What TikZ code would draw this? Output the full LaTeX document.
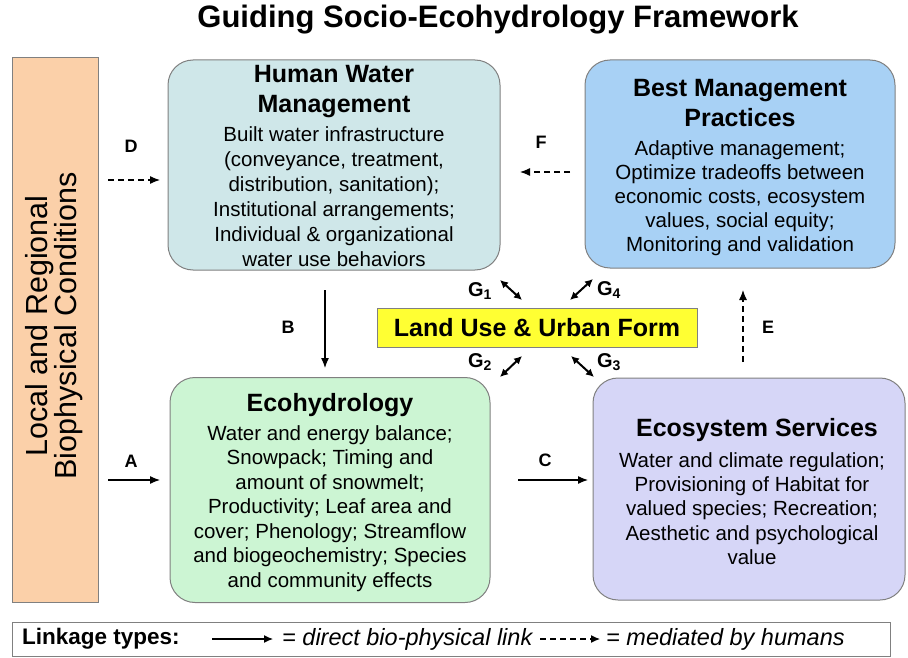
\documentclass[tikz,border=0pt]{standalone}
\usepackage{fontspec}
\setmainfont{Liberation Sans}
\usetikzlibrary{arrows.meta}

\definecolor{barfill}{HTML}{FBD0A9}
\definecolor{hwmfill}{HTML}{CFE7E9}
\definecolor{bmpfill}{HTML}{A8D1F5}
\definecolor{ecofill}{HTML}{CCF5D3}
\definecolor{esfill}{HTML}{D6D6F7}
\definecolor{landfill}{HTML}{FFFF33}

\begin{document}
\begin{tikzpicture}[x=1pt,y=-1pt,
  box/.style={draw=gray,line width=1pt,rounded corners=25pt,inner sep=0pt},
  boxtitle/.style={font=\fontsize{25}{30}\selectfont\bfseries,align=center,inner sep=0pt},
  boxbody/.style={font=\fontsize{20.5}{24.5}\selectfont,align=center,inner sep=0pt},
  link/.style={-{Latex[length=10pt,width=8pt]},line width=1.2pt},
  hlink/.style={link,dash pattern=on 6pt off 4pt},
  lbl/.style={font=\fontsize{18}{20}\selectfont\bfseries,inner sep=0pt},
  glink/.style={{Latex[length=8pt,width=8pt]}-{Latex[length=8pt,width=8pt]},line width=2pt},
  legtext/.style={font=\fontsize{23.5}{25}\selectfont,anchor=west,inner sep=0pt}]

\useasboundingbox (0,0) rectangle (908,658);

\def\hx{334} \def\bx{740} \def\ex{330} \def\sx{749}
\def\ty{164} \def\by{490}
\def\ay{480} \def\dy{180}

% title
\node [font=\fontsize{31}{34}\selectfont\bfseries] (title) at (498,20) {Guiding Socio-Ecohydrology Framework};

% left bar
\node [draw=gray,line width=1pt,fill=barfill,minimum width=86pt,minimum height=544pt] (bar) at (55,330) {};
\node [rotate=90,align=center,font=\fontsize{30.5}{29.5}\selectfont] (barText) at (54,326) {Local and Regional\\Biophysical Conditions};

% the four boxes
\node [box,fill=hwmfill,minimum width=332pt,minimum height=210pt] (hwm) at (\hx,165) {};
\node [boxtitle] (hwmT) at (\hx,92) {Human Water\\Management};
\node [boxbody,font=\fontsize{20.5}{25}\selectfont] (hwmB) at (\hx,197) {Built water infrastructure\\(conveyance, treatment,\\distribution, sanitation);\\Institutional arrangements;\\Individual \& organizational\\water use behaviors};

\node [box,fill=bmpfill,minimum width=310pt,minimum height=208pt] (bmp) at (\bx,\ty) {};
\node [boxtitle] (bmpT) at (\bx,103) {Best Management\\Practices};
\node [boxbody,font=\fontsize{20.5}{24}\selectfont] (bmpB) at (\bx,198) {Adaptive management;\\Optimize tradeoffs between\\economic costs, ecosystem\\values, social equity;\\Monitoring and validation};

\node [box,fill=ecofill,minimum width=320pt,minimum height=225pt] (eco) at (\ex,\by) {};
\node [boxtitle] (ecoT) at (\ex,405) {Ecohydrology};
\node [boxbody] (ecoB) at (\ex,508.5) {Water and energy balance;\\Snowpack; Timing and\\amount of snowmelt;\\Productivity; Leaf area and\\cover; Phenology; Streamflow\\and biogeochemistry; Species\\and community effects};

\node [box,fill=esfill,minimum width=312pt,minimum height=222pt] (es) at (\sx,489) {};
\node [boxtitle] (esT) at (757,430) {Ecosystem Services};
\node [boxbody,font=\fontsize{20.5}{24.25}\selectfont] (esB) at (752,508.5) {Water and climate regulation;\\Provisioning of Habitat for\\valued species; Recreation;\\Aesthetic and psychological\\value};

% land use
\node [draw=gray,line width=1pt,fill=landfill,minimum width=320pt,minimum height=39pt,font=\fontsize{25}{28}\selectfont\bfseries] (land) at (537,327.5) {Land Use \& Urban Form};

% links A to F
\coordinate (dS) at (108,\dy); \coordinate (dE) at (160,\dy);
\coordinate (aS) at (108,\ay); \coordinate (aE) at (160,\ay);
\coordinate (bS) at (325,290); \coordinate (bE) at (325,368);
\coordinate (cS) at (518,\ay); \coordinate (cE) at (588,\ay);
\coordinate (eS) at (743,362); \coordinate (eE) at (743,290);
\coordinate (fS) at (570,172); \coordinate (fE) at (520,172);

\draw [hlink] (dS) -- (dE);
\draw [link] (aS) -- (aE);
\draw [link] (bS) -- (bE);
\draw [link] (cS) -- (cE);
\draw [hlink] (eS) -- (eE);
\draw [hlink] (fS) -- (fE);

\node [lbl] (dL) at (131,146) {D};
\node [lbl] (aL) at (131,461) {A};
\node [lbl] (bL) at (288,327) {B};
\node [lbl] (cL) at (545,460) {C};
\node [lbl] (eL) at (768,327) {E};
\node [lbl] (fL) at (541,142) {F};

% G links round the land use box
\coordinate (g1S) at (500,280); \coordinate (g1E) at (522,300);
\coordinate (g4S) at (570,300); \coordinate (g4E) at (593,279);
\coordinate (g2S) at (500,377); \coordinate (g2E) at (522,356);
\coordinate (g3S) at (571,356); \coordinate (g3E) at (594,377);
\draw [glink] (g1S) -- (g1E);
\draw [glink] (g4S) -- (g4E);
\draw [glink] (g2S) -- (g2E);
\draw [glink] (g3S) -- (g3E);

\node [lbl,font=\fontsize{20}{22}\selectfont\bfseries] (g1L) at (480,291) {G\textsubscript{1}};
\node [lbl,font=\fontsize{20}{22}\selectfont\bfseries] (g4L) at (609,290) {G\textsubscript{4}};
\node [lbl,font=\fontsize{20}{22}\selectfont\bfseries] (g2L) at (480,362) {G\textsubscript{2}};
\node [lbl,font=\fontsize{20}{22}\selectfont\bfseries] (g3L) at (609,362) {G\textsubscript{3}};

% legend
\node [draw=gray,line width=1pt,fill=white,minimum width=878pt,minimum height=34pt] (legend) at (451,639) {};
\node [legtext,font=\fontsize{22.5}{24}\selectfont\bfseries] (legT) at (22,639) {Linkage types:};
\coordinate (l1S) at (212,639); \coordinate (l1E) at (273,639);
\draw [-{Latex[length=9pt,width=8pt]},line width=1.2pt] (l1S) -- (l1E);
\node [legtext,font=\fontsize{23.5}{25}\selectfont\itshape] (legA) at (282,639) {= direct bio-physical link};
\coordinate (l2S) at (540,639); \coordinate (l2E) at (600,639);
\draw [-{Latex[length=9pt,width=8pt]},line width=1.2pt,dash pattern=on 6pt off 4pt] (l2S) -- (l2E);
\node [legtext,font=\fontsize{23.5}{25}\selectfont\itshape] (legB) at (606,639) {= mediated by humans};
\end{tikzpicture}
\end{document}
